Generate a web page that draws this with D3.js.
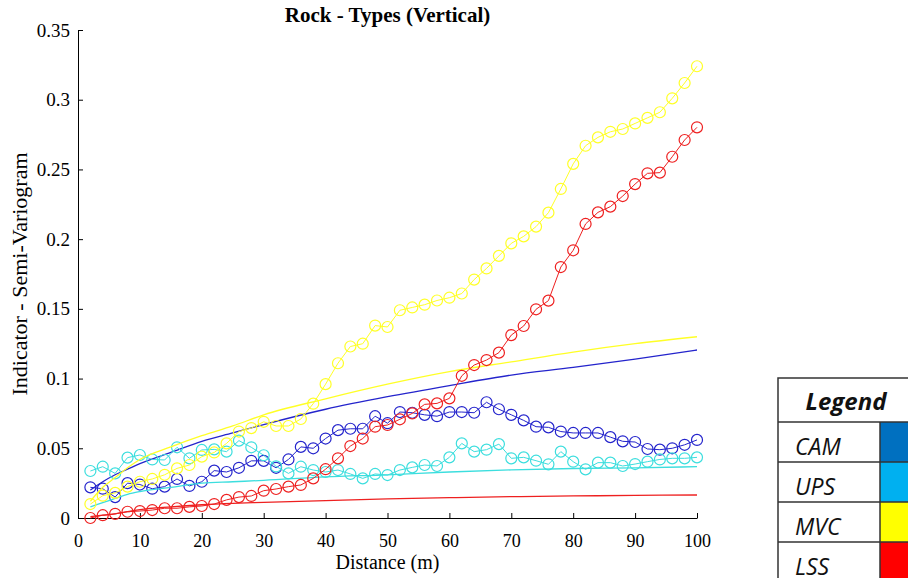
<!DOCTYPE html>
<html>
<head>
<meta charset="utf-8">
<script src="https://cdn.jsdelivr.net/npm/d3@7"></script>
<style>
  body { margin: 0; background: #fff; }
  svg { display: block; }
  .axis text { font-family: "Liberation Serif", "Times New Roman", serif; font-size: 18px; fill: #000; }
  .axis.y-axis text { font-size: 19px; }
  .axis path, .axis line { stroke: #000; stroke-width: 1; }
  .legend-text { font-family: "Open Sans", sans-serif; font-style: italic; fill: #111; }
</style>
</head>
<body>
<div id="chart"></div>
<script>
// lag distances (m) of the experimental variograms
const lags = [2, 4, 6, 8, 10, 12, 14, 16, 18, 20, 22, 24, 26, 28, 30, 32, 34, 36, 38, 40,
  42, 44, 46, 48, 50, 52, 54, 56, 58, 60, 62, 64, 66, 68, 70, 72, 74, 76, 78, 80,
  82, 84, 86, 88, 90, 92, 94, 96, 98, 100];

const camValues = [0.022, 0.021, 0.015, 0.025, 0.024, 0.021, 0.0225, 0.028, 0.023, 0.026,
  0.034, 0.033, 0.036, 0.041, 0.041, 0.036, 0.042, 0.051, 0.050, 0.057,
  0.063, 0.064, 0.064, 0.073, 0.068, 0.076, 0.0755, 0.074, 0.073, 0.076,
  0.076, 0.0755, 0.083, 0.078, 0.074, 0.070, 0.0655, 0.065, 0.062, 0.061,
  0.061, 0.061, 0.058, 0.055, 0.0545, 0.0495, 0.049, 0.050, 0.0525, 0.056];

const upsValues = [0.0337, 0.0368, 0.032, 0.0433, 0.0452, 0.042, 0.0416, 0.0507, 0.0428, 0.0488,
  0.0492, 0.0476, 0.0555, 0.0507, 0.045, 0.037, 0.032, 0.0368, 0.0344, 0.033,
  0.0344, 0.0316, 0.0284, 0.0316, 0.0308, 0.0344, 0.0363, 0.038, 0.0373, 0.0435,
  0.0535, 0.0476, 0.049, 0.053, 0.0428, 0.0435, 0.0411, 0.0385, 0.0476, 0.0404,
  0.0349, 0.0397, 0.0397, 0.0373, 0.0387, 0.0404, 0.042, 0.0428, 0.0428, 0.0435];

const mvcValues = [0.010, 0.016, 0.018, 0.0225, 0.026, 0.028, 0.031, 0.0356, 0.038, 0.044,
  0.047, 0.0535, 0.062, 0.0645, 0.069, 0.066, 0.066, 0.071, 0.082, 0.096,
  0.111, 0.123, 0.125, 0.138, 0.137, 0.149, 0.151, 0.153, 0.156, 0.158,
  0.161, 0.171, 0.179, 0.188, 0.197, 0.202, 0.209, 0.219, 0.236, 0.254,
  0.267, 0.273, 0.277, 0.279, 0.283, 0.287, 0.291, 0.301, 0.312, 0.324];

const lssValues = [0.0, 0.002, 0.003, 0.0045, 0.005, 0.0057, 0.007, 0.007, 0.008, 0.0086,
  0.010, 0.013, 0.015, 0.0158, 0.0196, 0.0208, 0.0225, 0.0237, 0.0284, 0.035,
  0.0428, 0.0516, 0.057, 0.0655, 0.0667, 0.0708, 0.075, 0.0815, 0.0822, 0.0858,
  0.102, 0.1097, 0.1133, 0.1186, 0.1312, 0.1377, 0.1497, 0.1559, 0.180, 0.192,
  0.2109, 0.2192, 0.2233, 0.2309, 0.2395, 0.2472, 0.2477, 0.2591, 0.2711, 0.2802];

// fitted model curves, read at a few distances
const fitLags = [2, 4, 6, 8, 10, 15, 20, 25, 30, 40, 50, 60, 70, 80, 90, 100];
const camFit = [0.020, 0.026, 0.031, 0.035, 0.039, 0.047, 0.055, 0.061, 0.067, 0.078, 0.087, 0.095, 0.1025, 0.108, 0.114, 0.1205];
const upsFit = [0.008, 0.011, 0.014, 0.017, 0.019, 0.022, 0.025, 0.026, 0.027, 0.0295, 0.031, 0.033, 0.0345, 0.0355, 0.036, 0.0368];
const mvcFit = [0.012, 0.022, 0.029, 0.036, 0.042, 0.051, 0.059, 0.066, 0.074, 0.0855, 0.096, 0.105, 0.112, 0.119, 0.125, 0.130];
const lssFit = [0.001, 0.002, 0.003, 0.0045, 0.006, 0.008, 0.0095, 0.0105, 0.0112, 0.0125, 0.0137, 0.0146, 0.0153, 0.0158, 0.0162, 0.0165];

const xTicks = [0, 10, 20, 30, 40, 50, 60, 70, 80, 90, 100];
const yTicks = [0, 0.05, 0.1, 0.15, 0.2, 0.25, 0.3, 0.35];
const yTickLabels = ["0", "0.05", "0.1", "0.15", "0.2", "0.25", "0.3", "0.35"];

const legendNames = ["CAM", "UPS", "MVC", "LSS"];
const legendColors = ["#0070c0", "#00b0f0", "#ffff00", "#ff0000"];

class VariogramChart {

    constructor(_config) {
        this.config = {
            parentElement: _config.parentElement,
            containerWidth: 908,
            containerHeight: 578,
            margin: {top: 30, right: 211, bottom: 60, left: 78},
            radius: 5.5,
        }
        this.series = [
            {values: camValues, fit: camFit, color: "#2424cc"},
            {values: upsValues, fit: upsFit, color: "#3cdede"},
            {values: mvcValues, fit: mvcFit, color: "#ffff26"},
            {values: lssValues, fit: lssFit, color: "#ee2020"},
        ];
        this.initVis();
    }

    initVis() {
        let vis = this;
        const m = vis.config.margin;

        vis.svg = d3.select(vis.config.parentElement).append('svg')
            .attr('width', vis.config.containerWidth)
            .attr('height', vis.config.containerHeight);

        vis.x = d3.scaleLinear()
            .domain([0, 100])
            .range([m.left, vis.config.containerWidth - m.right]);

        vis.y = d3.scaleLinear()
            .domain([0, 0.35])
            .range([vis.config.containerHeight - m.bottom, m.top]);

        // ticks point inward, like the original figure
        vis.svg.append('g')
            .attr('class', 'axis x-axis')
            .attr('transform', `translate(0,${vis.y(0)})`)
            .call(d3.axisBottom(vis.x).tickValues(xTicks).tickSizeInner(-5).tickSizeOuter(0).tickPadding(16));

        vis.svg.append('g')
            .attr('class', 'axis y-axis')
            .attr('transform', `translate(${vis.x(0)},0)`)
            .call(d3.axisLeft(vis.y).tickValues(yTicks).tickSizeInner(-5).tickSizeOuter(0).tickPadding(8)
                .tickFormat((d, i) => yTickLabels[i]));

        vis.svg.append('text')
            .attr('x', (vis.x(0) + vis.x(100)) / 2)
            .attr('y', 22)
            .attr('text-anchor', 'middle')
            .style('font-family', '"Liberation Serif", serif')
            .style('font-weight', 'bold')
            .style('font-size', '21px')
            .text('Rock - Types (Vertical)');

        vis.svg.append('text')
            .attr('x', (vis.x(0) + vis.x(100)) / 2)
            .attr('y', 569)
            .attr('text-anchor', 'middle')
            .style('font-family', '"Liberation Serif", serif')
            .style('font-size', '20px')
            .text('Distance (m)');

        vis.svg.append('text')
            .attr('transform', `translate(27,${(vis.y(0) + vis.y(0.35)) / 2}) rotate(-90)`)
            .attr('text-anchor', 'middle')
            .style('font-family', '"Liberation Serif", serif')
            .style('font-size', '22px')
            .text('Indicator - Semi-Variogram');

        vis.renderVis();
        vis.renderLegend();
    }

    renderVis() {
        let vis = this;

        const fitLine = d3.line()
            .x((d, i) => vis.x(fitLags[i]))
            .y(d => vis.y(d))
            .curve(d3.curveMonotoneX);

        const dataLine = d3.line()
            .x((d, i) => vis.x(lags[i]))
            .y(d => vis.y(d));

        vis.series.forEach(s => {
            const g = vis.svg.append('g');

            g.append('path')
                .attr('d', fitLine(s.fit))
                .attr('fill', 'none')
                .attr('stroke', s.color)
                .attr('stroke-width', 1.3);

            g.append('path')
                .attr('d', dataLine(s.values))
                .attr('fill', 'none')
                .attr('stroke', s.color)
                .attr('stroke-width', 1);

            g.selectAll('circle')
                .data(s.values)
              .enter().append('circle')
                .attr('cx', (d, i) => vis.x(lags[i]))
                .attr('cy', d => vis.y(d))
                .attr('r', vis.config.radius)
                .attr('fill', 'none')
                .attr('stroke', s.color)
                .attr('stroke-width', 1.2);
        });
    }

    renderLegend() {
        let vis = this;
        const left = 778, top = 378, right = 930, split = 880;
        const headH = 44, rowH = 40;

        const lg = vis.svg.append('g').attr('class', 'legend');

        lg.selectAll('.swatch')
            .data(legendColors)
          .enter().append('rect')
            .attr('class', 'swatch')
            .attr('x', split)
            .attr('y', (d, i) => top + headH + i * rowH)
            .attr('width', right - split)
            .attr('height', rowH)
            .attr('fill', d => d);

        lg.selectAll('.name')
            .data(legendNames)
          .enter().append('text')
            .attr('class', 'legend-text')
            .attr('x', 795)
            .attr('y', (d, i) => top + headH + i * rowH + 33)
            .style('font-size', '23px')
            .text(d => d);

        lg.append('text')
            .attr('class', 'legend-text')
            .attr('x', 846)
            .attr('y', top + 32)
            .attr('text-anchor', 'middle')
            .style('font-size', '24px')
            .style('font-weight', 'bold')
            .text('Legend');

        // table grid
        const grid = lg.append('g')
            .attr('stroke', '#333')
            .attr('stroke-width', 1.5)
            .attr('fill', 'none');

        grid.append('rect')
            .attr('x', left)
            .attr('y', top)
            .attr('width', right - left)
            .attr('height', headH + 4 * rowH);

        grid.selectAll('.hline')
            .data(legendNames)
          .enter().append('line')
            .attr('x1', left).attr('x2', right)
            .attr('y1', (d, i) => top + headH + i * rowH)
            .attr('y2', (d, i) => top + headH + i * rowH);

        grid.append('line')
            .attr('x1', split).attr('x2', split)
            .attr('y1', top + headH).attr('y2', top + headH + 4 * rowH);
    }
}

new VariogramChart({parentElement: '#chart'});
</script>
</body>
</html>
